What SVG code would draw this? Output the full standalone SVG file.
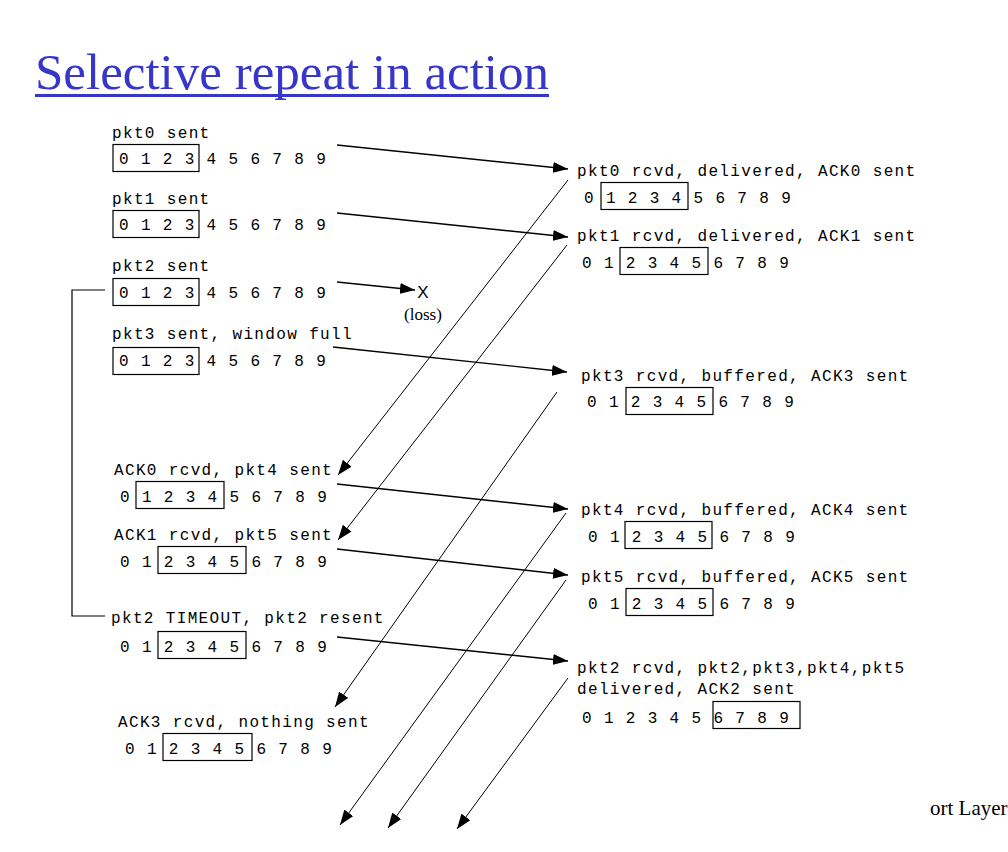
<svg xmlns="http://www.w3.org/2000/svg" width="1008" height="852" viewBox="0 0 1008 852">
<style>
.m{font-family:"Liberation Mono","DejaVu Sans Mono",monospace;font-size:16px;letter-spacing:1.35px;fill:#000}
.box{fill:none;stroke:#000;stroke-width:1.2}
.fw{fill:none;stroke:#000;stroke-width:1.3;marker-end:url(#ah)}
.ack{fill:none;stroke:#000;stroke-width:1;marker-end:url(#ah)}
.ser{font-family:"Liberation Serif","Times New Roman",serif;fill:#000}
</style>
<defs>
<marker id="ah" markerUnits="userSpaceOnUse" markerWidth="16" markerHeight="11" refX="15" refY="5.5" orient="auto">
<path d="M0,0 L15,5.5 L0,11 z" fill="#000"/>
</marker>
</defs>
<rect width="1008" height="852" fill="#fff"/>
<g id="title">
<text x="35" y="89" class="ser" style="font-size:51px;fill:#3636c8">Selective repeat in action</text>
<rect x="35" y="94" width="514" height="3" fill="#3636c8"/>
</g>
<g id="s-pkt0">
<text class="m" x="112" y="137.5">pkt0 sent</text>
<text class="m" x="119" y="163.5">0 1 2 3 4 5 6 7 8 9</text>
<rect class="box" x="113" y="144.5" width="86" height="27"/>
</g>
<g id="s-pkt1">
<text class="m" x="112" y="203.5">pkt1 sent</text>
<text class="m" x="119" y="230">0 1 2 3 4 5 6 7 8 9</text>
<rect class="box" x="113" y="210.5" width="86" height="27"/>
</g>
<g id="s-pkt2">
<text class="m" x="112" y="271">pkt2 sent</text>
<text class="m" x="119" y="297.5">0 1 2 3 4 5 6 7 8 9</text>
<rect class="box" x="113" y="278.5" width="86" height="27"/>
</g>
<g id="s-pkt3">
<text class="m" x="112" y="339">pkt3 sent, window full</text>
<text class="m" x="119" y="365.5">0 1 2 3 4 5 6 7 8 9</text>
<rect class="box" x="113" y="347.5" width="86" height="27"/>
</g>
<g id="s-ack0">
<text class="m" x="114" y="475">ACK0 rcvd, pkt4 sent</text>
<text class="m" x="120" y="501.5">0 1 2 3 4 5 6 7 8 9</text>
<rect class="box" x="136" y="481.5" width="88" height="27"/>
</g>
<g id="s-ack1">
<text class="m" x="114" y="540">ACK1 rcvd, pkt5 sent</text>
<text class="m" x="120" y="566.5">0 1 2 3 4 5 6 7 8 9</text>
<rect class="box" x="158" y="546.5" width="88" height="27"/>
</g>
<g id="s-timeout">
<text class="m" x="111" y="623">pkt2 TIMEOUT, pkt2 resent</text>
<text class="m" x="120" y="651.5">0 1 2 3 4 5 6 7 8 9</text>
<rect class="box" x="158" y="631.5" width="88" height="27"/>
</g>
<g id="s-ack3">
<text class="m" x="118" y="727">ACK3 rcvd, nothing sent</text>
<text class="m" x="125" y="754">0 1 2 3 4 5 6 7 8 9</text>
<rect class="box" x="163" y="733.5" width="89" height="27"/>
</g>
<g id="r-pkt0">
<text class="m" x="577" y="176">pkt0 rcvd, delivered, ACK0 sent</text>
<text class="m" x="584" y="203">0 1 2 3 4 5 6 7 8 9</text>
<rect class="box" x="601" y="182.5" width="87" height="27"/>
</g>
<g id="r-pkt1">
<text class="m" x="577" y="241">pkt1 rcvd, delivered, ACK1 sent</text>
<text class="m" x="582" y="268">0 1 2 3 4 5 6 7 8 9</text>
<rect class="box" x="620" y="247.5" width="88" height="27"/>
</g>
<g id="r-pkt3">
<text class="m" x="581" y="381">pkt3 rcvd, buffered, ACK3 sent</text>
<text class="m" x="587" y="407">0 1 2 3 4 5 6 7 8 9</text>
<rect class="box" x="626" y="387.5" width="87" height="27"/>
</g>
<g id="r-pkt4">
<text class="m" x="581" y="515">pkt4 rcvd, buffered, ACK4 sent</text>
<text class="m" x="588" y="542">0 1 2 3 4 5 6 7 8 9</text>
<rect class="box" x="625" y="521.5" width="87" height="27"/>
</g>
<g id="r-pkt5">
<text class="m" x="581" y="582">pkt5 rcvd, buffered, ACK5 sent</text>
<text class="m" x="588" y="609">0 1 2 3 4 5 6 7 8 9</text>
<rect class="box" x="626" y="588.5" width="87" height="27"/>
</g>
<g id="r-pkt2">
<text class="m" x="577" y="673">pkt2 rcvd, pkt2,pkt3,pkt4,pkt5</text>
<text class="m" x="577" y="693.5">delivered, ACK2 sent</text>
<text class="m" x="582" y="722.5">0 1 2 3 4 5 6 7 8 9</text>
<rect class="box" x="713" y="701.5" width="87" height="27"/>
</g>
<g id="loss">
<text x="423" y="298" text-anchor="middle" style="font-family:'Liberation Sans',sans-serif;font-size:17px;font-weight:300">X</text>
<text x="423" y="320" text-anchor="middle" class="ser" style="font-size:17px">(loss)</text>
</g>
<g id="footer">
<text x="930" y="815" class="ser" style="font-size:21px">ort Layer</text>
</g>
<g id="connectors">
<polyline points="105,290 72,290 72,616 105,616" fill="none" stroke="#000" stroke-width="1.2"/>
<line class="fw" x1="337" y1="145" x2="568" y2="169"/>
<line class="fw" x1="337" y1="213" x2="568" y2="237"/>
<line class="fw" x1="337" y1="282" x2="415" y2="290"/>
<line class="fw" x1="333" y1="347" x2="567" y2="372"/>
<line class="fw" x1="337" y1="484" x2="568" y2="509"/>
<line class="fw" x1="337" y1="549" x2="568" y2="575"/>
<line class="fw" x1="337" y1="637" x2="568" y2="661"/>
<line class="ack" x1="568" y1="180" x2="338" y2="475"/>
<line class="ack" x1="567" y1="245" x2="338" y2="540"/>
<line class="ack" x1="557" y1="392" x2="335" y2="707"/>
<line class="ack" x1="566" y1="513" x2="340" y2="825"/>
<line class="ack" x1="566" y1="580" x2="388" y2="828"/>
<line class="ack" x1="568" y1="678" x2="457" y2="829"/>
</g>
</svg>
